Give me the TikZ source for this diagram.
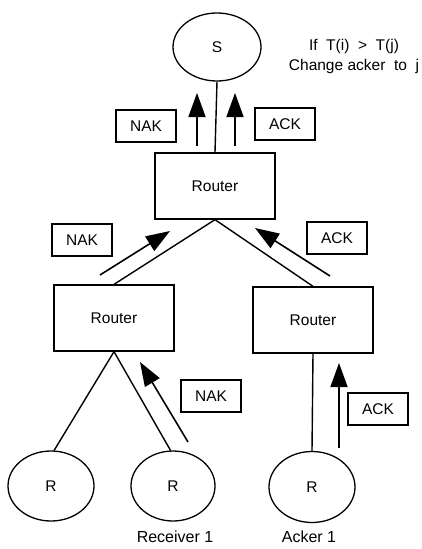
\documentclass[tikz,border=0pt]{standalone}
\usepackage{fontspec}
\setmainfont{Liberation Sans}
\usetikzlibrary{arrows.meta,shapes.geometric}
\tikzset{
  host/.style={draw,ellipse,line width=1.3pt,inner sep=0pt},
  router/.style={draw,rectangle,line width=1.3pt,minimum width=120pt,minimum height=66pt},
  msgbox/.style={draw,rectangle,line width=1.1pt,minimum width=60pt,minimum height=32pt,inner sep=0pt},
  msgarrow/.style={line width=1.6pt,-{Triangle[length=24pt,width=17pt]}},
  link/.style={line width=1.4pt}
}
\begin{document}
\begin{tikzpicture}[x=1pt,y=-1pt,font=\fontsize{15.5}{18}\selectfont]
    \useasboundingbox (0,0) rectangle (422,549);
    % 绘制节点
    \node[host,minimum width=88pt,minimum height=68pt] (S) at (217,47) {S};
    \node[router] (rt) at (215,186) {Router};
    \node[router] (rl) at (114,318) {Router};
    \node[router] (rr) at (313,320) {Router};
    \node[host,minimum width=86pt,minimum height=70pt] (ra) at (51,486) {R};
    \node[host,minimum width=84pt,minimum height=70pt] (rb) at (173,486) {R};
    \node[host,minimum width=86pt,minimum height=71pt] (rc) at (312,487) {R};
    % 连线
    \draw[link] (S.south) -- (rt.north);
    \draw[link] (rt.south) -- (rl.north);
    \draw[link] (rt.south) -- (rr.north);
    \draw[link] (rl.south) -- (ra.85);
    \draw[link] (rl.south) -- (rb.94);
    \draw[link] (rr.south) -- (rc.north);
    % 箭头端点
    \coordinate (a1) at (197,146);
    \coordinate (b1) at (197,93);
    \coordinate (a2) at (235,146);
    \coordinate (b2) at (235,93);
    \coordinate (a3) at (100,275);
    \coordinate (b3) at (170,231);
    \coordinate (a4) at (330,276);
    \coordinate (b4) at (255,228);
    \coordinate (a5) at (188,442);
    \coordinate (b5) at (140,362);
    \coordinate (a6) at (339,448);
    \coordinate (b6) at (339,363);
    \draw[msgarrow] (a1) -- (b1);
    \draw[msgarrow] (a2) -- (b2);
    \draw[msgarrow] (a3) -- (b3);
    \draw[msgarrow] (a4) -- (b4);
    \draw[msgarrow] (a5) -- (b5);
    \draw[msgarrow] (a6) -- (b6);
    % 标注
    \node[msgbox] (nak1) at (146,126) {NAK};
    \node[msgbox] (ack1) at (285,124) {ACK};
    \node[msgbox] (nak2) at (82,240) {NAK};
    \node[msgbox] (ack2) at (337,238) {ACK};
    \node[msgbox] (nak3) at (211,396) {NAK};
    \node[msgbox] (ack3) at (378,409) {ACK};
    \node[align=center,font=\fontsize{15.5}{20}\selectfont] (rule) at (354,56) {If\ \ T(i)\ \ >\ \ T(j)\\Change\ acker\ \ to\ \ j};
    \node[font=\fontsize{16}{18}\selectfont] (recv) at (175,537) {Receiver 1};
    \node[font=\fontsize{16}{18}\selectfont] (acker) at (309,537) {Acker 1};
\end{tikzpicture}
\end{document}
